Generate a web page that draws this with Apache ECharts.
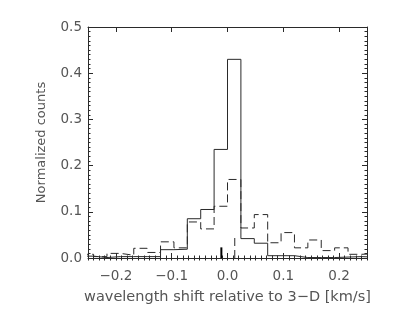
<!DOCTYPE html>
<html><head><meta charset="utf-8">
<script src="https://cdn.jsdelivr.net/npm/echarts@6/dist/echarts.min.js"></script>
<style>html,body{margin:0;padding:0;background:#fff}#c{width:393px;height:314px}</style>
</head><body><div id="c"></div>
<script>
// bin edges (km/s)
const binEdges = [-0.264,-0.24,-0.216,-0.192,-0.168,-0.144,-0.12,-0.096,-0.072,-0.048,-0.024,0,0.024,0.048,0.072,0.096,0.12,0.144,0.168,0.192,0.216,0.24,0.264];
// solid histogram
const solidCounts = [0.004,0.001,0.003,0.003,0.003,0.003,0.018,0.019,0.085,0.105,0.235,0.43,0.042,0.032,0.005,0.005,0.001,0.001,0.001,0.002,0.003,0.002];
// dashed histogram
const dashedCounts = [0.008,0.003,0.010,0.006,0.021,0.012,0.035,0.022,0.078,0.063,0.112,0.170,0.065,0.094,0.033,0.055,0.022,0.039,0.016,0.022,0.008,0.009];
// short marker lines (mean positions)
const markerX = [-0.011, 0.013];
const markerH = [0.023, 0.05];
// tick labels
const xTickValues = [-0.2,-0.1,0,0.1,0.2];
const xTickLabels = ['\u22120.2','\u22120.1','0.0','0.1','0.2'];
const yTickLabels = ['0.0','0.1','0.2','0.3','0.4','0.5'];
const xMinorValues = [];
for (let i = -25; i <= 25; i++) xMinorValues.push(i/100);

function stepData(vals){
  const d = [];
  for (let i = 0; i < vals.length; i++) d.push([binEdges[i], vals[i]]);
  d.push([binEdges[vals.length], vals[vals.length-1]]);
  return d;
}
const FONT = "'DejaVu Sans ExtraLight', 'DejaVu Sans'";
const TXT = '#555';
const LINE = '#2a2a2a';
const chart = echarts.init(document.getElementById('c'));
const xBase = {type:'value', min:-0.25, max:0.25, splitLine:{show:false},
  axisLine:{show:true, onZero:false, lineStyle:{color:LINE,width:1}}};
const yBase = {type:'value', min:0, max:0.5, interval:0.1, splitLine:{show:false},
  axisLine:{show:true, onZero:false, lineStyle:{color:LINE,width:1}},
  axisTick:{show:true, inside:true, length:5, lineStyle:{color:LINE}},
  minorTick:{show:true, splitNumber:10, length:2.5, lineStyle:{color:LINE}}};
chart.setOption({
  animation:false,
  grid:{left:88, right:26, top:27, bottom:56},
  xAxis:[
    Object.assign({}, xBase, {position:'bottom',
      name:'wavelength shift relative to 3\u2212D [km/s]', nameLocation:'middle', nameGap:32,
      nameTextStyle:{fontFamily:FONT, fontSize:14.5, color:TXT},
      axisTick:{show:true, inside:true, length:5, customValues:xTickValues, lineStyle:{color:LINE}},
      axisLabel:{show:true, margin:11, fontFamily:FONT, fontSize:13.5, color:TXT, customValues:xTickValues,
        formatter:function(v){ const i = xTickValues.findIndex(t=>Math.abs(t-v)<1e-9); return i>=0?xTickLabels[i]:''; }}}),
    Object.assign({}, xBase, {position:'bottom', axisLine:{show:false},
      axisTick:{show:true, inside:true, length:2.5, customValues:xMinorValues, lineStyle:{color:LINE}},
      axisLabel:{show:false}}),
    Object.assign({}, xBase, {position:'top',
      axisTick:{show:true, inside:true, length:5, customValues:xTickValues, lineStyle:{color:LINE}},
      axisLabel:{show:false}}),
    Object.assign({}, xBase, {position:'top', axisLine:{show:false},
      axisTick:{show:true, inside:true, length:2.5, customValues:xMinorValues, lineStyle:{color:LINE}},
      axisLabel:{show:false}})
  ],
  yAxis:[
    Object.assign({}, yBase, {position:'left',
      name:'Normalized counts', nameLocation:'middle', nameGap:40, nameRotate:90,
      nameTextStyle:{fontFamily:FONT, fontSize:13, color:TXT},
      axisLabel:{show:true, margin:6, fontFamily:FONT, fontSize:13.5, color:TXT,
        formatter:function(v){ return yTickLabels[Math.round(v*10)]; }}}),
    Object.assign({}, yBase, {position:'right', axisLabel:{show:false}})
  ],
  series:[
    {type:'line', xAxisIndex:0, yAxisIndex:0, step:'end', symbol:'none', clip:true,
      data:stepData(solidCounts), lineStyle:{color:LINE, width:1}},
    {type:'line', xAxisIndex:0, yAxisIndex:0, step:'end', symbol:'none', clip:true,
      data:stepData(dashedCounts), lineStyle:{color:LINE, width:1, type:[8,4]}},
    {type:'line', xAxisIndex:0, yAxisIndex:0, symbol:'none',
      data:[[markerX[0],0],[markerX[0],markerH[0]]], lineStyle:{color:'#000', width:2}},
    {type:'line', xAxisIndex:0, yAxisIndex:0, symbol:'none',
      data:[[markerX[1],0],[markerX[1],markerH[1]]], lineStyle:{color:LINE, width:1, type:[8,4]}}
  ]
});
</script></body></html>
